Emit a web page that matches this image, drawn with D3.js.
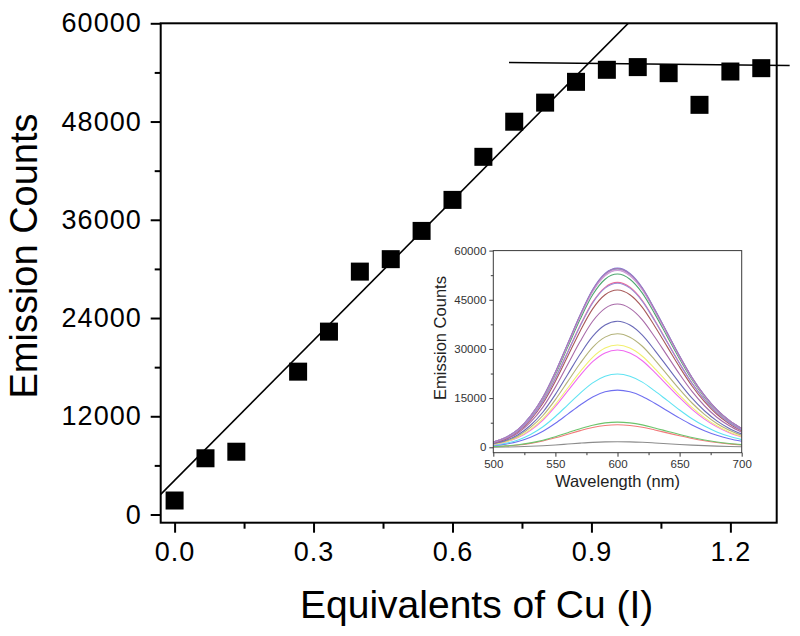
<!DOCTYPE html>
<html><head><meta charset="utf-8">
<script src="https://cdn.jsdelivr.net/npm/d3@7"></script>
<style>
html,body{margin:0;padding:0;background:#fff;}
svg{display:block;font-family:"Liberation Sans",Arial,sans-serif;}
</style></head>
<body><svg id="c" width="800" height="636"></svg>
<script>
// ---- main chart data ----
const equivalents = [0, 0.0667, 0.1333, 0.2667, 0.3333, 0.4, 0.4667, 0.5333, 0.6, 0.6667, 0.7333, 0.8, 0.8667, 0.9333, 1.0, 1.0667, 1.1333, 1.2, 1.2667];
const emissionCounts = [1710, 6870, 7670, 17450, 22340, 29670, 31190, 34640, 38430, 43690, 47980, 50310, 52850, 54320, 54650, 53910, 50040, 54110, 54520];
const xTicks = [0.0, 0.3, 0.6, 0.9, 1.2];
const xMinorTicks = [0.15, 0.45, 0.75, 1.05];
const yTicks = [0, 12000, 24000, 36000, 48000, 60000];
const yMinorTicks = [6000, 18000, 30000, 42000, 54000];
// linear fit of rising part: counts = intercept + slope * eq
const riseFit = {intercept: 4170, slope: 57000};
// plateau line endpoints
const plateauX = [0.722, 1.328];
const plateauY = [55210, 54840];

// ---- inset data ----
const wavelengths = [500,510,520,530,540,550,560,570,580,590,600,610,620,630,640,650,660,670,680,690,700];
const bandProfile = [0.03,0.055,0.10,0.175,0.28,0.42,0.58,0.74,0.88,0.97,1.0,0.97,0.89,0.77,0.64,0.51,0.39,0.29,0.21,0.15,0.105];
const spectrumPeaks = emissionCounts;
const spectrumColors = ['#8c8c8c','#f27a7a','#6cc46c','#6f6ff0','#5fe3f2','#f06af0','#f2f070','#b3b27a','#6a6ab8','#a86aa8','#a85a5a','#ee6a98','#4fa870','#4aa6a6','#7a7ad8','#c59ad8','#9a8ed8','#d3a0d8','#a77ab8'];
const insetXTicks = [500,550,600,650,700];
const insetXMinor = [525,575,625,675];
const insetYTicks = [0,15000,30000,45000,60000];
const insetYMinor = [7500,22500,37500,52500];

const svg = d3.select('#c');

// ---------------- main plot ----------------
const L=160.7, R=776.7, T=23.3, B=522.7;
const x = d3.scaleLinear().domain([-0.03, 1.3]).range([L, R]);
const y = d3.scaleLinear().domain([-1000, 60000]).range([B, T]);

svg.append('defs').append('clipPath').attr('id','plotClip')
  .append('rect').attr('x',L).attr('y',T).attr('width',R-L).attr('height',B-T);

function styleAxis(g, w){
  g.select('.domain').remove();
  g.selectAll('.tick line').attr('stroke','#000').attr('stroke-width',w);
}

// x axis
const gx = svg.append('g').attr('transform',`translate(0,${B})`)
  .call(d3.axisBottom(x).tickValues(xTicks).tickSize(10).tickPadding(8).tickFormat(d3.format('.1f')));
styleAxis(gx,2);
gx.selectAll('text').attr('font-size',27).attr('fill','#000').attr('letter-spacing','1px').attr('dy','0.71em').attr('y',19);
const gxm = svg.append('g').attr('transform',`translate(0,${B})`)
  .call(d3.axisBottom(x).tickValues(xMinorTicks).tickSize(6).tickFormat(''));
styleAxis(gxm,2);

// y axis
const gy = svg.append('g').attr('transform',`translate(${L},0)`)
  .call(d3.axisLeft(y).tickValues(yTicks).tickSize(10).tickPadding(9).tickFormat(d3.format('d')));
styleAxis(gy,2);
gy.selectAll('text').attr('font-size',27).attr('fill','#000').attr('letter-spacing','1px');
const gym = svg.append('g').attr('transform',`translate(${L},0)`)
  .call(d3.axisLeft(y).tickValues(yMinorTicks).tickSize(6).tickFormat(''));
styleAxis(gym,2);

// frame
svg.append('rect').attr('x',L).attr('y',T).attr('width',R-L).attr('height',B-T)
  .attr('fill','none').attr('stroke','#000').attr('stroke-width',2);

// fit line (rising)
const xd = x.domain();
svg.append('line').attr('clip-path','url(#plotClip)')
  .attr('x1', x(xd[0])).attr('y1', y(riseFit.intercept + riseFit.slope*xd[0]))
  .attr('x2', x(1.1)).attr('y2', y(riseFit.intercept + riseFit.slope*1.1))
  .attr('stroke','#000').attr('stroke-width',1.6);
// plateau line
svg.append('line')
  .attr('x1', x(plateauX[0])).attr('y1', y(plateauY[0]))
  .attr('x2', x(plateauX[1])).attr('y2', y(plateauY[1]))
  .attr('stroke','#000').attr('stroke-width',1.6);

// squares
const S=18;
svg.append('g').selectAll('rect').data(equivalents.map((e,i)=>[e,emissionCounts[i]])).join('rect')
  .attr('x',d=>x(d[0])-S/2).attr('y',d=>y(d[1])-S/2).attr('width',S).attr('height',S).attr('fill','#000');

// titles
svg.append('text').attr('x',(L+R)/2+8).attr('y',618).attr('text-anchor','middle')
  .attr('font-size',39).attr('fill','#000').text('Equivalents of Cu (I)');
svg.append('text').attr('transform','translate(37,256) rotate(-90)').attr('text-anchor','middle')
  .attr('font-size',38).attr('fill','#000').text('Emission Counts');

// ---------------- inset ----------------
const iL=493.3, iR=741.7, iT=250.6, iB=452.7;
const xi = d3.scaleLinear().domain([500,700]).range([iL,iR]);
const yi = d3.scaleLinear().domain([-1650,60000]).range([iB,iT]);
const inset = svg.append('g');
inset.append('rect').attr('x',iL).attr('y',iT).attr('width',iR-iL).attr('height',iB-iT).attr('fill','#fff');

const line = d3.line().x(d=>xi(d[0])).y(d=>yi(d[1])).curve(d3.curveMonotoneX);
inset.append('g').selectAll('path').data(spectrumPeaks.map((p,i)=>({p,i}))).join('path')
  .attr('d', d => line(wavelengths.map((w,j)=>[w, bandProfile[j]*d.p])))
  .attr('fill','none').attr('stroke',d=>spectrumColors[d.i]).attr('stroke-width',1.1);

const axCol='#3a3a3a';
function styleInset(g){
  g.select('.domain').remove();
  g.selectAll('.tick line').attr('stroke',axCol).attr('stroke-width',1);
  g.selectAll('text').attr('font-size',11.5).attr('fill','#333');
}
const gix = inset.append('g').attr('transform',`translate(0,${iB})`)
  .call(d3.axisBottom(xi).tickValues(insetXTicks).tickSize(4).tickPadding(3));
styleInset(gix);
const gixm = inset.append('g').attr('transform',`translate(0,${iB})`)
  .call(d3.axisBottom(xi).tickValues(insetXMinor).tickSize(2.5).tickFormat(''));
styleInset(gixm);
const giy = inset.append('g').attr('transform',`translate(${iL},0)`)
  .call(d3.axisLeft(yi).tickValues(insetYTicks).tickSize(4).tickPadding(3).tickFormat(d3.format('d')));
styleInset(giy);
const giym = inset.append('g').attr('transform',`translate(${iL},0)`)
  .call(d3.axisLeft(yi).tickValues(insetYMinor).tickSize(2.5).tickFormat(''));
styleInset(giym);
inset.append('rect').attr('x',iL).attr('y',iT).attr('width',iR-iL).attr('height',iB-iT)
  .attr('fill','none').attr('stroke',axCol).attr('stroke-width',1);

inset.append('text').attr('x',(iL+iR)/2).attr('y',486.5).attr('text-anchor','middle')
  .attr('font-size',16.5).attr('fill','#222').text('Wavelength (nm)');
inset.append('text').attr('transform','translate(446,338) rotate(-90)').attr('text-anchor','middle')
  .attr('font-size',16.5).attr('fill','#222').text('Emission Counts');
</script></body></html>
